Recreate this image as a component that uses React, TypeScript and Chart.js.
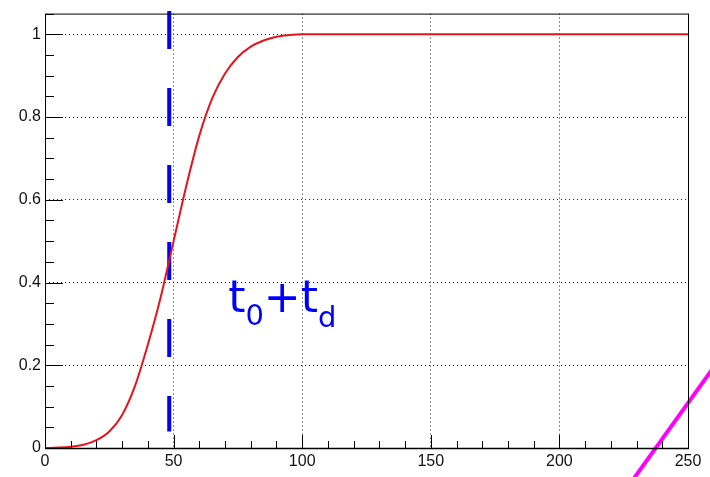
import React, { useEffect, useRef } from 'react';
import { Chart, registerables } from 'chart.js';

Chart.register(...registerables);

// Red curve
const CURVE_X = [0, 5, 10, 15, 20, 25, 30, 35, 40, 45, 50, 55, 60, 65, 70, 75, 80, 85, 90, 95, 100, 110, 250];
const CURVE_Y = [0, 0.001, 0.003, 0.008, 0.019, 0.04, 0.08, 0.15, 0.25, 0.365, 0.5, 0.635, 0.755, 0.845, 0.905, 0.945, 0.97, 0.985, 0.994, 0.998, 1, 1, 1];

// Blue dashed marker at t0+td
const MARKER_X = [48.3, 48.3];
const MARKER_Y = [1.056, 0.04];

// Magenta diagonal line (bottom-right corner)
const DIAG_X = [225, 262];
const DIAG_Y = [-0.108, 0.2125];

// Axes
const X_TICKS = [0, 50, 100, 150, 200, 250];
const Y_TICKS = [0, 0.2, 0.4, 0.6, 0.8, 1];
const X_MIN = 0;
const X_MAX = 250;
const Y_MIN = 0;
const Y_MAX = 1.05;
const X_MINOR_STEP = 10;
const Y_MINOR_STEP = 0.05;

// Annotation text anchor (data coordinates)
const LABEL_X = 71.2;
const LABEL_Y = 0.328;

const toPoints = (xs: number[], ys: number[]) => xs.map((x, i) => ({ x, y: ys[i] }));

const rootAxesPlugin = {
  id: 'rootAxes',
  afterDraw(chart: any) {
    const { ctx, chartArea: a, scales } = chart;
    const xs = scales.x;
    const ys = scales.y;
    ctx.save();
    ctx.strokeStyle = '#000';
    ctx.lineWidth = 1;
    // frame
    ctx.beginPath();
    ctx.rect(a.left + 0.5, a.top + 0.5, a.right - a.left, a.bottom - a.top);
    ctx.stroke();
    // y ticks (inside)
    ctx.beginPath();
    for (let v = Y_MIN; v <= Y_MAX + 1e-9; v += Y_MINOR_STEP) {
      const py = Math.round(ys.getPixelForValue(v)) + 0.5;
      const major = Y_TICKS.some((t) => Math.abs(t - v) < 1e-6);
      ctx.moveTo(a.left, py);
      ctx.lineTo(a.left + (major ? 18 : 9), py);
    }
    // x ticks (inside)
    for (let v = X_MIN; v <= X_MAX + 1e-9; v += X_MINOR_STEP) {
      const px = Math.round(xs.getPixelForValue(v)) + 0.5;
      const major = X_TICKS.some((t) => Math.abs(t - v) < 1e-6);
      ctx.moveTo(px, a.bottom);
      ctx.lineTo(px, a.bottom - (major ? 13 : 7));
    }
    ctx.stroke();
    // bottom axis slightly heavier
    ctx.lineWidth = 1.5;
    ctx.beginPath();
    ctx.moveTo(a.left, a.bottom + 0.5);
    ctx.lineTo(a.right + 1, a.bottom + 0.5);
    ctx.stroke();

    // annotation t0+td
    const bx = xs.getPixelForValue(LABEL_X);
    const by = ys.getPixelForValue(LABEL_Y);
    ctx.fillStyle = '#0000ff';
    ctx.textBaseline = 'alphabetic';
    ctx.textAlign = 'left';
    const big = '44px "DejaVu Sans", sans-serif';
    const small = '29px "DejaVu Sans", sans-serif';
    let cx = bx;
    const pieces: [string, string, number][] = [
      ['t', big, 0],
      ['0', small, 13],
      ['+', big, 0],
      ['t', big, 0],
      ['d', small, 15],
    ];
    for (const [txt, font, dy] of pieces) {
      ctx.font = font;
      ctx.fillText(txt, cx, by + dy);
      cx += ctx.measureText(txt).width;
    }
    ctx.restore();
  },
};

export default function App() {
  const ref = useRef<HTMLCanvasElement>(null);

  useEffect(() => {
    const canvas = ref.current;
    if (!canvas) return;
    const tickFont = { family: '"Liberation Sans", Arial, Helvetica, sans-serif', size: 16 };
    const chart = new Chart(canvas, {
      type: 'line',
      data: {
        datasets: [
          {
            data: toPoints(CURVE_X, CURVE_Y),
            borderColor: '#e8131a',
            borderWidth: 2,
            pointRadius: 0,
            cubicInterpolationMode: 'monotone',
            fill: false,
          },
          {
            data: toPoints(MARKER_X, MARKER_Y),
            borderColor: '#0000ff',
            borderWidth: 4,
            borderDash: [38, 39],
            borderCapStyle: 'butt',
            pointRadius: 0,
            clip: false,
            fill: false,
          },
          {
            data: toPoints(DIAG_X, DIAG_Y),
            borderColor: '#ff00ff',
            borderWidth: 4,
            pointRadius: 0,
            clip: false,
            fill: false,
          },
        ],
      } as any,
      options: {
        animation: false,
        responsive: false,
        maintainAspectRatio: false,
        events: [],
        layout: { padding: { top: 12, right: 22, left: 0, bottom: 0 } },
        plugins: { legend: { display: false }, tooltip: { enabled: false } },
        scales: {
          x: {
            type: 'linear',
            min: X_MIN,
            max: X_MAX,
            afterBuildTicks: (s: any) => {
              s.ticks = X_TICKS.map((v) => ({ value: v }));
            },
            afterFit: (s: any) => {
              s.height = 29;
            },
            grid: { color: '#222', lineWidth: 1, drawTicks: false },
            border: { display: false, dash: [1, 3] },
            ticks: {
              font: tickFont,
              color: '#111',
              padding: 4,
              maxRotation: 0,
              autoSkip: false,
              callback: (v: any) => String(v),
            },
          },
          y: {
            type: 'linear',
            min: Y_MIN,
            max: Y_MAX,
            afterBuildTicks: (s: any) => {
              s.ticks = Y_TICKS.map((v) => ({ value: v }));
            },
            afterFit: (s: any) => {
              s.width = 45;
            },
            grid: { color: '#222', lineWidth: 1, drawTicks: false },
            border: { display: false, dash: [1, 3] },
            ticks: {
              font: tickFont,
              color: '#111',
              padding: 4,
              autoSkip: false,
              callback: (v: any) => String(v),
            },
          },
        },
      } as any,
      plugins: [rootAxesPlugin],
    });
    return () => chart.destroy();
  }, []);

  return (
    <div style={{ position: 'absolute', left: 0, top: 0, width: 710, height: 477, background: '#fff' }}>
      <canvas ref={ref} width={710} height={477} style={{ display: 'block', width: 710, height: 477 }} />
    </div>
  );
}
